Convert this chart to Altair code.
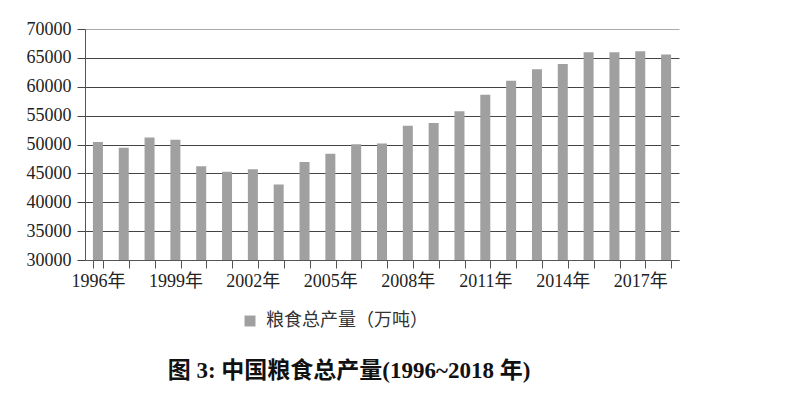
import altair as alt
import pandas as pd

years = [str(y) for y in range(1996, 2019)]
output = [50450, 49420, 51230, 50840, 46220, 45260, 45710, 43070, 46950, 48400,
          50050, 50160, 53260, 53720, 55750, 58620, 61050, 63020, 63940, 65960,
          65960, 66130, 65600]
series = "粮食总产量（万吨）"
title_text = "图 3: 中国粮食总产量(1996~2018 年)"

df = pd.DataFrame({"year": years, "value": output, "series": [series] * len(years)})

serif = "Liberation Serif, Noto Sans CJK SC"

chart = alt.Chart(df, title=alt.Title(
    title_text, orient="bottom", anchor="middle", frame="group",
    font="Liberation Serif, Noto Sans CJK SC", fontSize=23, fontWeight="bold",
    color="#111", dx=-33, offset=30)).mark_bar(width=10, clip=True).encode(
    x=alt.X("year:N", title=None, sort=years,
            scale=alt.Scale(paddingInner=0.6, paddingOuter=0.3),
            axis=alt.Axis(labelAngle=0, tickBand="extent", tickSize=8, tickColor="#555",
                          domainColor="#555", labelPadding=4, labelFont=serif,
                          labelFontSize=18, labelColor="#222", grid=False,
                          labelExpr="(toNumber(datum.value) - 1996) % 3 == 0 ? datum.value + '年' : ''")),
    y=alt.Y("value:Q", title=None,
            scale=alt.Scale(domain=[30000, 70000], nice=False, zero=False),
            axis=alt.Axis(values=list(range(30000, 70001, 5000)), format="d",
                          tickSize=8, tickColor="#444", domainColor="#555",
                          labelPadding=6, labelFont=serif, labelFontSize=18,
                          labelColor="#222", gridColor={"condition": {"test": "datum.value == 70000", "value": "#aaa"}, "value": "#444"},
                          gridWidth=1.2)),
    color=alt.Color("series:N", scale=alt.Scale(range=["#a0a0a0"]),
                    legend=alt.Legend(title=None, orient="none", legendX=156, legendY=283,
                                      symbolType="square", symbolSize=120, symbolStrokeWidth=0,
                                      labelFont="Noto Sans CJK SC", labelFontSize=18,
                                      labelLimit=400, labelColor="#333", labelOffset=7))
).properties(
    width=594, height=231,
    autosize=alt.AutoSizeParams(type="none"),
    padding={"left": 77, "top": 21, "right": 109, "bottom": 127}
).configure_view(stroke=None).configure_axisY(domain=True)

chart.save("out.html", embed_options={"renderer": "svg", "actions": False})
